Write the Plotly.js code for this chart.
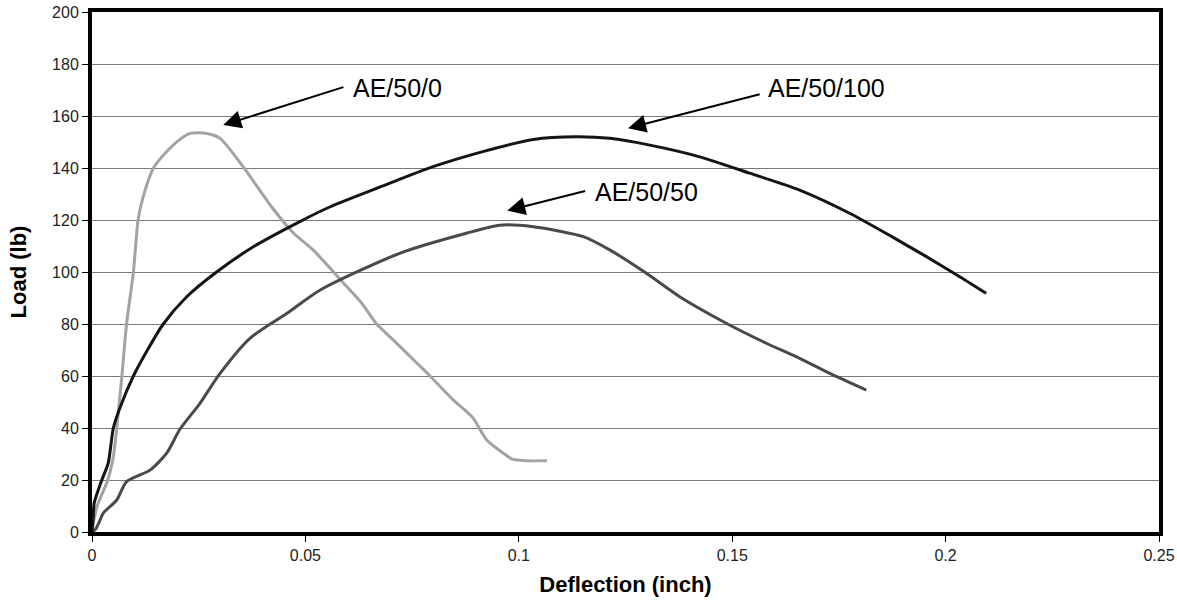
<!DOCTYPE html>
<html>
<head>
<meta charset="utf-8">
<script src="https://cdn.plot.ly/plotly-3.0.1.min.js"></script>
<style>
html,body{margin:0;padding:0;background:#fff;}
#chart{width:1177px;height:611px;}
</style>
</head>
<body>
<div id="chart"></div>
<script>
// AE/50/0 (light gray)
const ae0_x = [0,0.0005,0.0012,0.0037,0.005,0.0058,0.007,0.0081,0.0097,0.0108,0.012,0.0144,0.0179,0.0206,0.023,0.0269,0.030,0.0354,0.0421,0.0472,0.0518,0.0588,0.0632,0.0667,0.0705,0.0761,0.0792,0.0845,0.0892,0.0925,0.0963,0.0985,0.1019,0.1066];
const ae0_y = [0,5,10,20,29,40,60,80,100,120,129,140,147,151,153.3,153.3,151.4,140.5,125,115,108.5,96,88,80,74,65,60,51,44,35.4,30.4,28,27.4,27.4];

// AE/50/100 (black)
const ae100_x = [0,0.0003,0.0005,0.0023,0.0038,0.005,0.0066,0.0097,0.013,0.0167,0.0222,0.0292,0.0378,0.0487,0.0557,0.068,0.0799,0.092,0.1034,0.1135,0.1213,0.1307,0.1424,0.1541,0.1658,0.1775,0.1875,0.1955,0.2035,0.2095];
const ae100_y = [0,6,11,20,26.5,40,48,60,70,80,90.5,100,109.7,119.4,125,133,140.5,146.5,151,152,151.4,148.8,144.3,138,131.5,122.6,113.5,105.9,98,91.8];

// AE/50/50 (dark gray)
const ae50_x = [0,0.0008,0.0019,0.0026,0.0058,0.0081,0.0136,0.0175,0.0206,0.0253,0.030,0.037,0.0456,0.0534,0.0721,0.0877,0.0955,0.1034,0.1151,0.1213,0.1299,0.1377,0.1486,0.158,0.1658,0.1736,0.1814];
const ae50_y = [0,1,4.6,7.2,12.3,19.4,23.8,30.3,39.5,49.5,61,74.5,84,93,107.2,114.9,118,117.4,113.6,108.5,99.5,90.5,80.3,72.6,66.8,60.4,54.6];

const seriesNames = ['AE/50/0','AE/50/100','AE/50/50'];
const xTickVals = [0,0.05,0.1,0.15,0.2,0.25];
const xTickText = ['0','0.05','0.1','0.15','0.2','0.25'];
const yTickVals = [0,20,40,60,80,100,120,140,160,180,200];

const traces = [
  {x: ae0_x, y: ae0_y, name: seriesNames[0], mode:'lines', line:{color:'#a3a3a3', width:3, shape:'spline', smoothing:0.7}},
  {x: ae50_x, y: ae50_y, name: seriesNames[2], mode:'lines', line:{color:'#4a4a4a', width:3, shape:'spline', smoothing:0.7}},
  {x: ae100_x, y: ae100_y, name: seriesNames[1], mode:'lines', line:{color:'#151515', width:3, shape:'spline', smoothing:0.7}}
];

const font = 'Liberation Sans, Arial, sans-serif';
function arrow(tx,ty,hx,hy){
  return {x:tx, y:ty, ax:hx, ay:hy, axref:'x', ayref:'y', xref:'x', yref:'y', text:'',
          showarrow:true, arrowhead:2, arrowsize:1.8, arrowwidth:2, arrowcolor:'#000', standoff:0, startstandoff:0};
}
function label(t,x,y){
  return {x:x, y:y, xref:'x', yref:'y', text:t, showarrow:false, xanchor:'left', yanchor:'middle',
          font:{family:font, size:25, color:'#000'}};
}

const layout = {
  width:1177, height:611,
  margin:{l:92, r:18, t:12, b:79},
  paper_bgcolor:'#fff', plot_bgcolor:'#fff',
  showlegend:false,
  font:{family:font, color:'#222'},
  xaxis:{range:[0,0.25], tickvals:xTickVals, ticktext:xTickText, ticks:'outside', ticklen:6, tickwidth:1, tickcolor:'#000',
         showgrid:false, zeroline:false, showline:true, linewidth:4, linecolor:'#000', mirror:true,
         tickfont:{family:font, size:16, color:'#222'},
         title:{text:'<b>Deflection (inch)</b>', font:{family:font, size:22, color:'#000'}, standoff:14}},
  yaxis:{range:[0,200], tickvals:yTickVals, ticks:'outside', ticklen:6, tickwidth:1, tickcolor:'#000',
         showgrid:true, gridcolor:'#7a7a7a', gridwidth:1, zeroline:false, showline:true, linewidth:4, linecolor:'#000', mirror:true,
         tickfont:{family:font, size:16, color:'#222'},
         title:{text:'<b>Load (lb)</b>', font:{family:font, size:22, color:'#000'}, standoff:20}},
  annotations:[
    arrow(0.03075,156.5,0.05925,171.3),
    arrow(0.1256,155.3,0.1568,168.5),
    arrow(0.0973,123.6,0.1159,131.3),
    label(seriesNames[0],0.0608,170.9),
    label(seriesNames[1],0.158,170.9),
    label(seriesNames[2],0.1174,130.6)
  ]
};

Plotly.newPlot('chart', traces, layout, {displayModeBar:false, staticPlot:true});
</script>
</body>
</html>
